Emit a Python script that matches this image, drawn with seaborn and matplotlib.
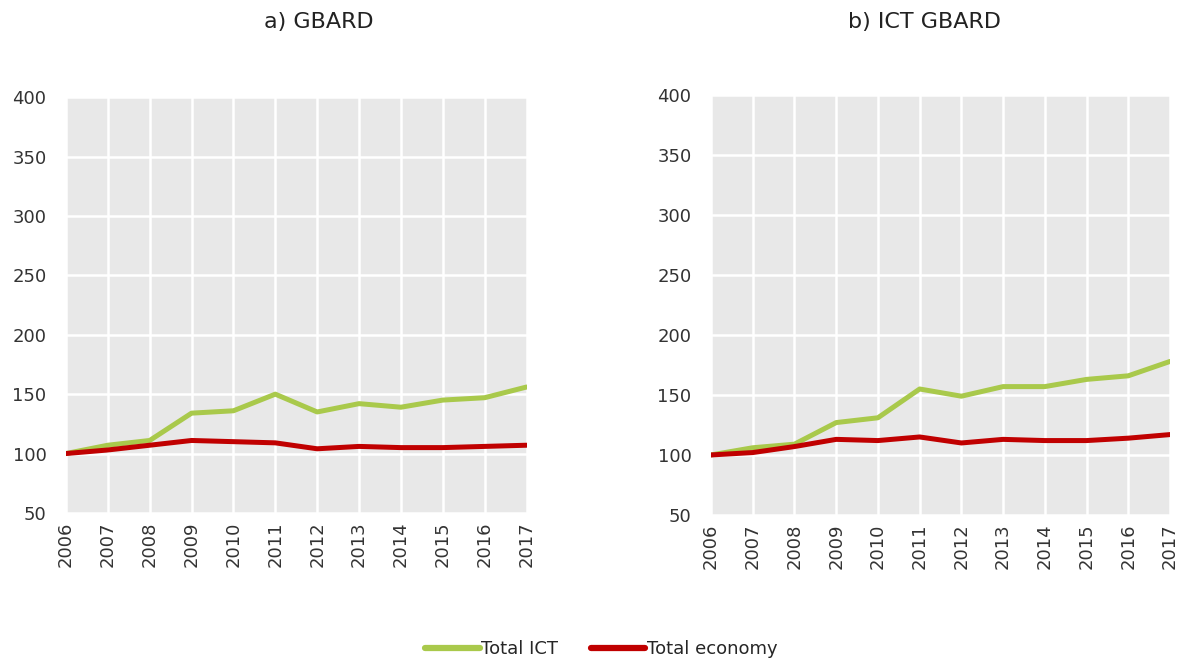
import pandas as pd
import matplotlib.pyplot as plt
import seaborn as sns

# Index values (2006 = 100)
years = list(range(2006, 2018))

gbard_ict = [100, 107, 111, 134, 136, 150, 135, 142, 139, 145, 147, 156]
gbard_total = [100, 103, 107, 111, 110, 109, 104, 106, 105, 105, 106, 107]

ict_gbard_ict = [100, 106, 109, 127, 131, 155, 149, 157, 157, 163, 166, 178]
ict_gbard_total = [100, 102, 107, 113, 112, 115, 110, 113, 112, 112, 114, 117]

panel_titles = ["a) GBARD", "b) ICT GBARD"]
series_names = ["Total ICT", "Total economy"]
palette = {"Total ICT": "#A9C94B", "Total economy": "#C00000"}


def make_frame(ict, total):
    return pd.concat([
        pd.DataFrame({"year": years, "value": ict, "series": series_names[0]}),
        pd.DataFrame({"year": years, "value": total, "series": series_names[1]}),
    ])


sns.set_style("darkgrid", {"axes.facecolor": "#E8E8E8", "grid.color": "white"})
plt.rcParams["font.family"] = ["DejaVu Sans"]

fig = plt.figure(figsize=(11.84, 6.61), dpi=100)
ax1 = fig.add_axes([0.0557, 0.224, 0.389, 0.629])
ax2 = fig.add_axes([0.6005, 0.221, 0.3877, 0.635])

frames = [make_frame(gbard_ict, gbard_total), make_frame(ict_gbard_ict, ict_gbard_total)]
title_x = [0.269, 0.781]

for ax, df, title, tx in zip([ax1, ax2], frames, panel_titles, title_x):
    sns.lineplot(data=df, x="year", y="value", hue="series", palette=palette,
                 linewidth=3.6, ax=ax, legend=False)
    ax.set_xlim(2006, 2017)
    ax.set_ylim(50, 400)
    ax.set_xticks(years)
    ax.set_xticklabels([str(y) for y in years], rotation=90)
    ax.set_yticks(range(50, 401, 50))
    ax.tick_params(axis="both", labelsize=13, colors="#333333", length=0)
    ax.tick_params(axis="y", pad=14)
    ax.tick_params(axis="x", pad=6)
    ax.grid(True, color="white", linewidth=1.8)
    ax.set_xlabel("")
    ax.set_ylabel("")
    for s in ax.spines.values():
        s.set_visible(False)
    fig.text(tx, 0.967, title, fontsize=16, color="#222222", ha="center", va="center")

handles = [plt.Line2D([], [], color=palette[n], linewidth=4.5, solid_capstyle="round")
           for n in series_names]
fig.legend(handles, series_names, loc="center", bbox_to_anchor=(0.508, 0.018),
           ncol=2, frameon=False, fontsize=13, handlelength=3.0,
           handletextpad=0.1, columnspacing=1.8)

fig.savefig("out.png", dpi=100)
